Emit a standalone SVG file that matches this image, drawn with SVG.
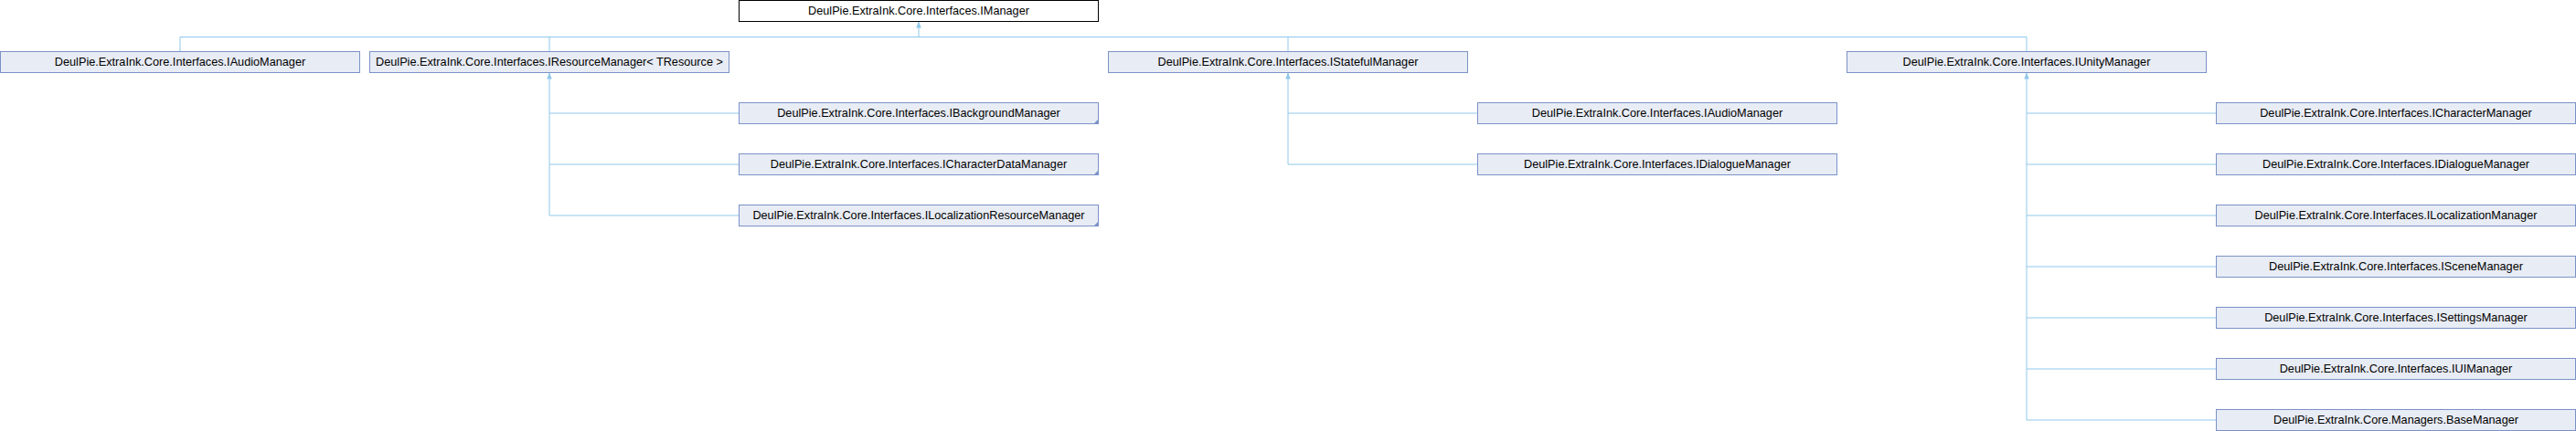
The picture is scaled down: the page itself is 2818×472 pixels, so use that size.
<svg xmlns="http://www.w3.org/2000/svg" width="2818" height="472" viewBox="0 0 2818 472">
<style>
.box{fill:#e8ecf5;stroke:#7b92c7;stroke-width:1}
.root{fill:#ffffff;stroke:#000000;stroke-width:1}
.lbl{font-family:"Liberation Sans",Arial,sans-serif;font-size:12.7px;fill:#000000;text-anchor:middle}
.edge{fill:none;stroke:#8fc8ea;stroke-width:1}
.mark{fill:#7b92c7}
</style>
<defs>
<marker id="arr" markerUnits="userSpaceOnUse" markerWidth="8" markerHeight="8" viewBox="0 0 8 8" refX="7" refY="4" orient="auto-start-reverse">
<path d="M0,1.2 L7,4 L0,6.8 Z" fill="#8fc8ea"/>
</marker>
</defs>
<g id="connectors">
<path class="edge" d="M1005,23.5 V40.5" marker-start="url(#arr)"/>
<path class="edge" d="M197,56.5 V40.5 H2217 V56.5"/>
<path class="edge" d="M601,40.5 V56.5"/>
<path class="edge" d="M1409,40.5 V56.5"/>
<path class="edge" d="M601,79.5 V236 H808.5" marker-start="url(#arr)"/>
<path class="edge" d="M601,124 H808.5 M601,180 H808.5"/>
<path class="edge" d="M1409,79.5 V180 H1616.5" marker-start="url(#arr)"/>
<path class="edge" d="M1409,124 H1616.5"/>
<path class="edge" d="M2217,79.5 V460 H2424.5" marker-start="url(#arr)"/>
<path class="edge" d="M2217,124 H2424.5 M2217,180 H2424.5 M2217,236 H2424.5 M2217,292 H2424.5 M2217,348 H2424.5 M2217,404 H2424.5"/>
</g>
<g id="IManager"><rect class="root" x="808.5" y="0.5" width="393" height="23"/><text class="lbl" x="1005" y="16">DeulPie.ExtraInk.Core.Interfaces.IManager</text></g>
<g id="IAudioManager_1"><rect class="box" x="0.5" y="56.5" width="393" height="23"/><text class="lbl" x="197" y="72">DeulPie.ExtraInk.Core.Interfaces.IAudioManager</text></g>
<g id="IResourceManager"><rect class="box" x="404.5" y="56.5" width="393" height="23"/><text class="lbl" x="601" y="72">DeulPie.ExtraInk.Core.Interfaces.IResourceManager&lt; TResource &gt;</text></g>
<g id="IStatefulManager"><rect class="box" x="1212.5" y="56.5" width="393" height="23"/><text class="lbl" x="1409" y="72">DeulPie.ExtraInk.Core.Interfaces.IStatefulManager</text></g>
<g id="IUnityManager"><rect class="box" x="2020.5" y="56.5" width="393" height="23"/><text class="lbl" x="2217" y="72">DeulPie.ExtraInk.Core.Interfaces.IUnityManager</text></g>
<g id="IBackgroundManager"><rect class="box" x="808.5" y="112.5" width="393" height="23"/><path class="mark" d="M1196.5,135.5 L1201.5,135.5 L1201.5,130.5 Z"/><text class="lbl" x="1005" y="128">DeulPie.ExtraInk.Core.Interfaces.IBackgroundManager</text></g>
<g id="ICharacterDataManager"><rect class="box" x="808.5" y="168.5" width="393" height="23"/><path class="mark" d="M1196.5,191.5 L1201.5,191.5 L1201.5,186.5 Z"/><text class="lbl" x="1005" y="184">DeulPie.ExtraInk.Core.Interfaces.ICharacterDataManager</text></g>
<g id="ILocalizationResourceManager"><rect class="box" x="808.5" y="224.5" width="393" height="23"/><path class="mark" d="M1196.5,247.5 L1201.5,247.5 L1201.5,242.5 Z"/><text class="lbl" x="1005" y="240">DeulPie.ExtraInk.Core.Interfaces.ILocalizationResourceManager</text></g>
<g id="IAudioManager_2"><rect class="box" x="1616.5" y="112.5" width="393" height="23"/><text class="lbl" x="1813" y="128">DeulPie.ExtraInk.Core.Interfaces.IAudioManager</text></g>
<g id="IDialogueManager_1"><rect class="box" x="1616.5" y="168.5" width="393" height="23"/><text class="lbl" x="1813" y="184">DeulPie.ExtraInk.Core.Interfaces.IDialogueManager</text></g>
<g id="ICharacterManager"><rect class="box" x="2424.5" y="112.5" width="393" height="23"/><text class="lbl" x="2621" y="128">DeulPie.ExtraInk.Core.Interfaces.ICharacterManager</text></g>
<g id="IDialogueManager_2"><rect class="box" x="2424.5" y="168.5" width="393" height="23"/><text class="lbl" x="2621" y="184">DeulPie.ExtraInk.Core.Interfaces.IDialogueManager</text></g>
<g id="ILocalizationManager"><rect class="box" x="2424.5" y="224.5" width="393" height="23"/><text class="lbl" x="2621" y="240">DeulPie.ExtraInk.Core.Interfaces.ILocalizationManager</text></g>
<g id="ISceneManager"><rect class="box" x="2424.5" y="280.5" width="393" height="23"/><text class="lbl" x="2621" y="296">DeulPie.ExtraInk.Core.Interfaces.ISceneManager</text></g>
<g id="ISettingsManager"><rect class="box" x="2424.5" y="336.5" width="393" height="23"/><text class="lbl" x="2621" y="352">DeulPie.ExtraInk.Core.Interfaces.ISettingsManager</text></g>
<g id="IUIManager"><rect class="box" x="2424.5" y="392.5" width="393" height="23"/><text class="lbl" x="2621" y="408">DeulPie.ExtraInk.Core.Interfaces.IUIManager</text></g>
<g id="BaseManager"><rect class="box" x="2424.5" y="448.5" width="393" height="23"/><text class="lbl" x="2621" y="464">DeulPie.ExtraInk.Core.Managers.BaseManager</text></g>
</svg>
